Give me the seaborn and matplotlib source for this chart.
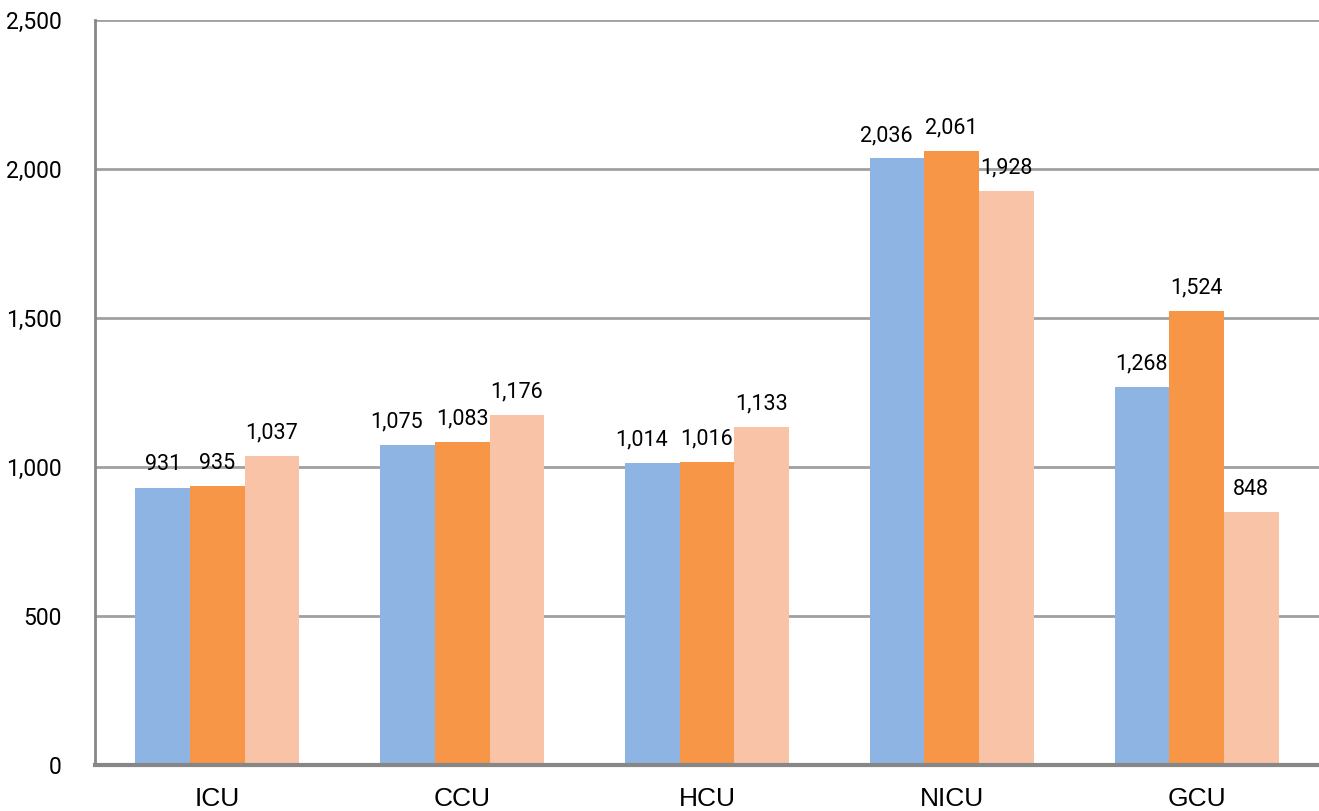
import pandas as pd
import seaborn as sns
import matplotlib.pyplot as plt

# data
units = ['ICU', 'CCU', 'HCU', 'NICU', 'GCU']
series_a = [931, 1075, 1014, 2036, 1268]
series_b = [935, 1083, 1016, 2061, 1524]
series_c = [1037, 1176, 1133, 1928, 848]
series_names = ['A', 'B', 'C']
colors = ['#8EB4E3', '#F79646', '#F9C3A8']

df = pd.DataFrame({
    'unit': units * 3,
    'series': [s for s in series_names for _ in units],
    'value': series_a + series_b + series_c,
})

sns.set_style('white')
plt.rcParams['font.family'] = ['Roboto', 'DejaVu Sans']

fig = plt.figure(figsize=(13.19, 8.11), dpi=100)
ax = fig.add_axes([0.072, 0.057, 0.928, 0.918])

sns.barplot(data=df, x='unit', y='value', hue='series', order=units,
            hue_order=series_names, palette=colors, width=0.67,
            saturation=1, legend=False, linewidth=0, edgecolor='none', ax=ax)

# value labels above each bar
label_sets = []
for c in ax.containers:
    label_sets.append(ax.bar_label(c, labels=[f'{v:,.0f}' for v in c.datavalues],
                                   padding=9, fontsize=15.5, color='black'))
# nudge the first label left where two wide labels sit side by side (like excel does)
for i, ann in enumerate(label_sets[0]):
    if series_a[i] >= 1000 and series_b[i] >= 1000 and series_b[i] - series_a[i] < 60:
        ann.xyann = (-8, 9)

ax.set_ylim(0, 2500)
ax.set_xlim(-0.5, 4.5)
ax.set_yticks(range(0, 2501, 500))
ax.set_yticklabels([f'{v:,}' for v in range(0, 2501, 500)], fontsize=16.5,
                   color='black')
ax.set_xticklabels(units, fontsize=19, family='Liberation Sans', color='black')
ax.tick_params(axis='y', length=0, pad=24)
ax.tick_params(axis='x', length=0, pad=16)
ax.set(xlabel='', ylabel='')

ax.yaxis.grid(True, color='#A0A0A0', linewidth=2)
ax.set_axisbelow(True)
for side in ['top', 'right']:
    ax.spines[side].set_visible(False)
ax.spines['left'].set_color('#878787')
ax.spines['left'].set_linewidth(2)
ax.spines['bottom'].set_color('#878787')
ax.spines['bottom'].set_linewidth(3)

fig.savefig('out.png', dpi=100)
